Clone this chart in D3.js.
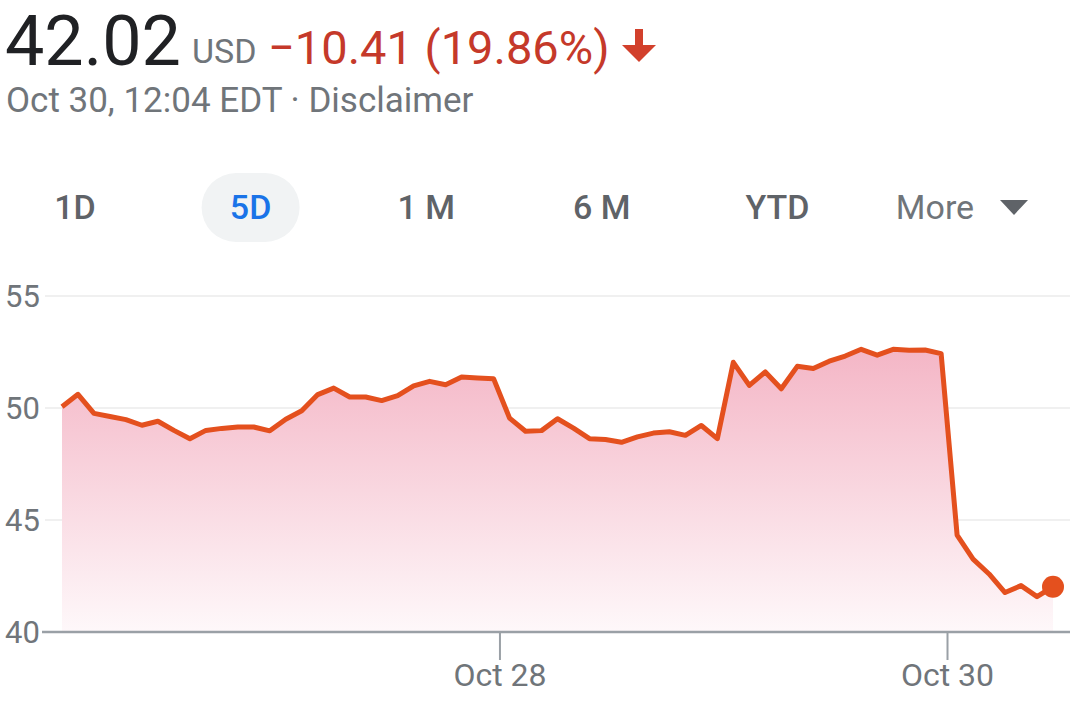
<!DOCTYPE html>
<html>
<head>
<meta charset="utf-8">
<script src="https://cdn.jsdelivr.net/npm/d3@7"></script>
<style>
  html, body { margin: 0; padding: 0; background: #fff; }
  svg { display: block; font-family: Roboto, "Noto Sans", sans-serif; }
</style>
</head>
<body>
<svg id="chart" width="1080" height="722"></svg>
<script>
// ---- Data (30-minute intraday prices) ----
const day1 = [50.06, 50.61, 49.76, 49.62, 49.48, 49.23, 49.41, 49.00, 48.63, 49.00, 49.09, 49.15, 49.15, 48.98];
const day2 = [49.50, 49.88, 50.60, 50.89, 50.49, 50.49, 50.33, 50.55, 50.99, 51.19, 51.04, 51.38, 51.34, 51.31];
const day3 = [49.55, 48.96, 48.99, 49.52, 49.10, 48.63, 48.59, 48.47, 48.71, 48.88, 48.94, 48.78, 49.22, 48.63];
const day4 = [52.04, 51.01, 51.61, 50.86, 51.86, 51.76, 52.09, 52.32, 52.62, 52.36, 52.62, 52.58, 52.59, 52.43];
const day5 = [44.33, 43.25, 42.59, 41.76, 42.07, 41.58, 42.02];
const prices = [].concat(day1, day2, day3, day4, day5);

const yTicks = [40, 45, 50, 55];
const xTickLabels = ["Oct 28", "Oct 30"];
const xTickIndex = [27.4, 55.4];   // session boundaries on the point index axis
const ranges = ["1D", "5D", "1 M", "6 M", "YTD", "More"];
const selectedRange = "5D";

const headerPrice = "42.02";
const headerCurrency = "USD";
const headerChange = "\u221210.41 (19.86%)";
const headerSub = "Oct 30, 12:04 EDT \u00b7 Disclaimer";

// ---- Drawing ----
const svg = d3.select("#chart");
const lineColor = "#e4501e";
const gray = "#70757a";

// Header
svg.append("text").attr("x", 5).attr("y", 65)
  .attr("font-size", 70).attr("fill", "#202124").text(headerPrice);
svg.append("text").attr("x", 192).attr("y", 63)
  .attr("font-size", 34).attr("fill", gray).text(headerCurrency);
svg.append("text").attr("x", 268).attr("y", 64)
  .attr("font-size", 47).attr("fill", "#c5392a").text(headerChange);
// down arrow
const aX = 639, aTop = 29;
svg.append("path")
  .attr("d", `M${aX-4},${aTop} h8 v16 h13 l-17,17 l-17,-17 h13 z`)
  .attr("fill", "#d2402c");
svg.append("text").attr("x", 6).attr("y", 112)
  .attr("font-size", 35).attr("fill", gray).text(headerSub);

// Range selector
const rangeX = d3.scalePoint().domain(ranges).range([75, 953]);
svg.append("rect")
  .attr("x", rangeX(selectedRange) - 49).attr("y", 173)
  .attr("width", 98).attr("height", 69).attr("rx", 34.5)
  .attr("fill", "#f1f3f4");
ranges.forEach(r => {
  const isMore = r === "More";
  svg.append("text")
    .attr("x", isMore ? rangeX(r) - 18 : rangeX(r)).attr("y", 219)
    .attr("text-anchor", "middle")
    .attr("font-size", 34).attr("font-weight", isMore ? 400 : 500)
    .attr("fill", r === selectedRange ? "#1a73e8" : (isMore ? gray : "#5f6368"))
    .text(r);
});
// dropdown triangle
const triX = rangeX("More") + 61;
svg.append("path")
  .attr("d", `M${triX-14},${200} h28 l-14,15 z`)
  .attr("fill", "#5f6368");

// Scales
const x = d3.scaleLinear().domain([0, prices.length - 1]).range([62, 1053]);
const y = d3.scaleLinear().domain([40, 55]).range([632, 296]);

// Gridlines
svg.append("g").selectAll("line")
  .data(yTicks.filter(v => v !== 40)).join("line")
  .attr("x1", 45).attr("x2", 1070)
  .attr("y1", d => y(d)).attr("y2", d => y(d))
  .attr("stroke", "#f0f0f0").attr("stroke-width", 2);

// Y labels
svg.append("g").selectAll("text")
  .data(yTicks).join("text")
  .attr("x", 5).attr("y", d => y(d))
  .attr("dy", "0.36em")
  .attr("font-size", 31).attr("fill", gray)
  .text(d => d);

// Gradient
const defs = svg.append("defs");
const grad = defs.append("linearGradient").attr("id", "fillGrad")
  .attr("gradientUnits", "userSpaceOnUse")
  .attr("x1", 0).attr("x2", 0)
  .attr("y1", y(d3.max(prices))).attr("y2", y(40));
grad.append("stop").attr("offset", 0).attr("stop-color", "#f4b6c6");
grad.append("stop").attr("offset", 1).attr("stop-color", "#fef8fa");

// Area
const area = d3.area()
  .x((d, i) => x(i)).y0(y(40)).y1(d => y(d));
svg.append("path").datum(prices)
  .attr("d", area).attr("fill", "url(#fillGrad)");

// Baseline axis
svg.append("line")
  .attr("x1", 42).attr("x2", 1070)
  .attr("y1", y(40)).attr("y2", y(40))
  .attr("stroke", "#9aa0a6").attr("stroke-width", 2.5);

// X ticks
const xt = svg.append("g").selectAll("g")
  .data(xTickIndex).join("g")
  .attr("transform", d => `translate(${x(d)},0)`);
xt.append("line").attr("y1", y(40)).attr("y2", 660)
  .attr("stroke", "#9aa0a6").attr("stroke-width", 2);
xt.append("text").attr("y", 686).attr("text-anchor", "middle")
  .attr("font-size", 32).attr("fill", gray)
  .text((d, i) => xTickLabels[i]);

// Line
const line = d3.line().x((d, i) => x(i)).y(d => y(d));
svg.append("path").datum(prices)
  .attr("d", line).attr("fill", "none")
  .attr("stroke", lineColor).attr("stroke-width", 5)
  .attr("stroke-linejoin", "round");

// End dot
const last = prices.length - 1;
svg.append("circle")
  .attr("cx", x(last)).attr("cy", y(prices[last]))
  .attr("r", 11).attr("fill", lineColor);
</script>
</body>
</html>
